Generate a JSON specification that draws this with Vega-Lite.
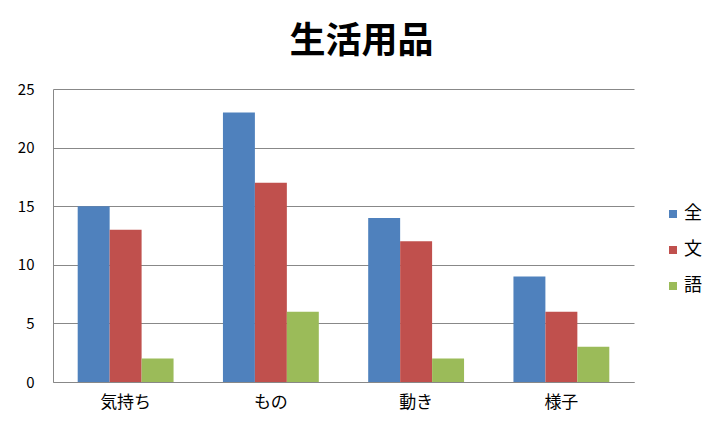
{
  "$schema": "https://vega.github.io/schema/vega-lite/v6.json",
  "autosize": "none",
  "width": 581,
  "height": 293,
  "padding": {"left": 53, "top": 89, "right": 91, "bottom": 55},
  "background": "white",
  "title": {"text": "生活用品", "fontSize": 36, "font": "Noto Sans CJK JP", "fontWeight": "bold", "color": "#000000", "offset": 21, "dx": 18, "anchor": "middle"},
  "data": {"values": [
    {"cat": "気持ち", "series": "全", "value": 15},
    {"cat": "気持ち", "series": "文", "value": 13},
    {"cat": "気持ち", "series": "語", "value": 2},
    {"cat": "もの", "series": "全", "value": 23},
    {"cat": "もの", "series": "文", "value": 17},
    {"cat": "もの", "series": "語", "value": 6},
    {"cat": "動き", "series": "全", "value": 14},
    {"cat": "動き", "series": "文", "value": 12},
    {"cat": "動き", "series": "語", "value": 2},
    {"cat": "様子", "series": "全", "value": 9},
    {"cat": "様子", "series": "文", "value": 6},
    {"cat": "様子", "series": "語", "value": 3}
  ]},
  "mark": {"type": "bar"},
  "encoding": {
    "x": {"field": "cat", "type": "nominal", "sort": ["気持ち", "もの", "動き", "様子"],
      "scale": {"paddingInner": 0.34, "paddingOuter": 0.17},
      "axis": {"title": null, "labelAngle": 0, "ticks": false, "domainColor": "#888888", "labelFont": "Noto Sans CJK JP", "labelFontSize": 17, "labelColor": "#000000", "labelPadding": 12}},
    "xOffset": {"field": "series", "type": "nominal", "sort": ["全", "文", "語"], "scale": {"paddingInner": 0, "paddingOuter": 0}},
    "y": {"field": "value", "type": "quantitative",
      "scale": {"domain": [0, 25]},
      "axis": {"title": null, "values": [0, 5, 10, 15, 20, 25], "ticks": false, "domainColor": "#888888", "gridColor": "#888888", "gridWidth": 1, "labelFont": "Noto Sans CJK JP", "labelFontSize": 15, "labelColor": "#000000", "labelPadding": 19}},
    "color": {"field": "series", "type": "nominal", "sort": ["全", "文", "語"],
      "scale": {"domain": ["全", "文", "語"], "range": ["#4F81BD", "#C0504D", "#9BBB59"]},
      "legend": {"title": null, "orient": "none", "legendX": 611, "legendY": 116, "symbolType": "square", "symbolSize": 64, "symbolStrokeWidth": 0, "labelFont": "Noto Sans CJK JP", "labelFontSize": 18, "labelColor": "#000000", "rowPadding": 18, "labelOffset": 2}}
  },
  "config": {"view": {"stroke": null}}
}
